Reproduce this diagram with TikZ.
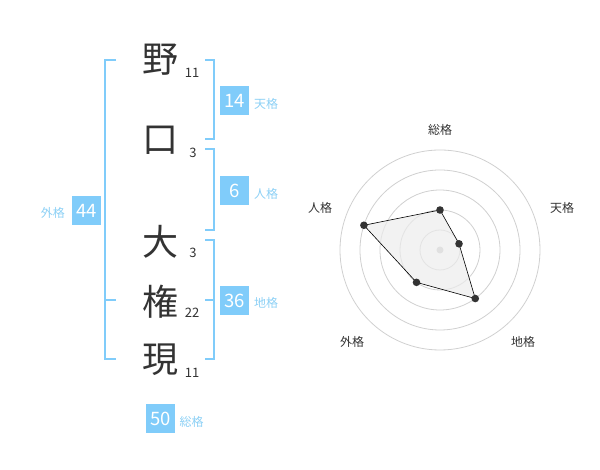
\documentclass[tikz,border=0pt]{standalone}
\usepackage{fontspec}
\setmainfont{Noto Sans CJK JP}
\definecolor{kakublue}{RGB}{128,204,250}
\definecolor{kakutext}{RGB}{140,208,245}
\definecolor{inkgray}{RGB}{51,51,51}
\definecolor{ringgray}{RGB}{208,208,208}

\begin{document}
\begin{tikzpicture}[x=1pt,y=1pt,
    kanji/.style={inkgray,font=\fontsize{36}{36}\selectfont,inner sep=0pt},
    strokes/.style={inkgray,font=\fontsize{13}{13}\selectfont,inner sep=0pt},
    kbox/.style={fill=kakublue,text=white,minimum size=29pt,inner sep=0pt,font=\fontsize{18.5}{18.5}\selectfont},
    klabel/.style={kakutext,font=\fontsize{12}{12}\selectfont,inner sep=0pt},
    bracket/.style={kakublue,line width=2pt},
    axislabel/.style={inkgray,font=\fontsize{12}{12}\selectfont,inner sep=0pt}]
    \useasboundingbox (0,0) rectangle (600,470);
    % name
    \node[kanji] (no) at (160,410) {野};
    \node[strokes] (noN) at (192,397) {11};
    \node[kanji] (kuchi) at (160,330) {口};
    \node[strokes] (kuchiN) at (193,317) {3};
    \node[kanji] (dai) at (160,228) {大};
    \node[strokes] (daiN) at (193,217) {3};
    \node[kanji] (gon) at (160,168) {権};
    \node[strokes] (gonN) at (192,157) {22};
    \node[kanji] (gen) at (160,110) {現};
    \node[strokes] (genN) at (192,97) {11};
    % brackets
    \draw[bracket] (116,410) -- (105,410) -- (105,111) -- (116,111);
    \draw[bracket] (105,170) -- (116,170);
    \draw[bracket] (205,410) -- (214,410) -- (214,331) -- (205,331);
    \draw[bracket] (205,321) -- (214,321) -- (214,240) -- (205,240);
    \draw[bracket] (205,230) -- (214,230) -- (214,111) -- (205,111);
    \draw[bracket] (205,170) -- (214,170);
    % totals
    \node[kbox] (ten) at (234.5,369.5) {14};
    \node[klabel,anchor=west] (tenL) at (254,366) {天格};
    \node[kbox] (jin) at (234.5,279.5) {6};
    \node[klabel,anchor=west] (jinL) at (254,276) {人格};
    \node[kbox] (chi) at (234.5,169.5) {36};
    \node[klabel,anchor=west] (chiL) at (254,167) {地格};
    \node[kbox] (gai) at (86.7,259.5) {44};
    \node[klabel,anchor=east] (gaiL) at (65,257) {外格};
    \node[kbox] (sou) at (160.5,51) {50};
    \node[klabel,anchor=west] (souL) at (179.5,48) {総格};
    % radar
    \begin{scope}[shift={(440,220)}]
        \foreach \r in {20,40,...,100}
            \draw[ringgray,line width=0.8pt] (0,0) circle (\r);
        \fill[gray!45] (0,0) circle (3.5);
        \coordinate (pSou) at (90:40);
        \coordinate (pTen) at (18:20);
        \coordinate (pChi) at (-54:60);
        \coordinate (pGai) at (-126:40);
        \coordinate (pJin) at (162:80);
        \draw[fill=gray!15,fill opacity=0.7,draw=black,line width=0.6pt] (pSou) -- (pTen) -- (pChi) -- (pGai) -- (pJin) -- cycle;
        \foreach \p in {pSou,pTen,pChi,pGai,pJin}
            \fill[inkgray] (\p) circle (3.8);
        \node[axislabel] (aSou) at (0,120) {総格};
        \node[axislabel] (aTen) at (122,42) {天格};
        \node[axislabel] (aChi) at (83,-92) {地格};
        \node[axislabel] (aGai) at (-88,-92) {外格};
        \node[axislabel] (aJin) at (-120,42) {人格};
    \end{scope}
\end{tikzpicture}
\end{document}
